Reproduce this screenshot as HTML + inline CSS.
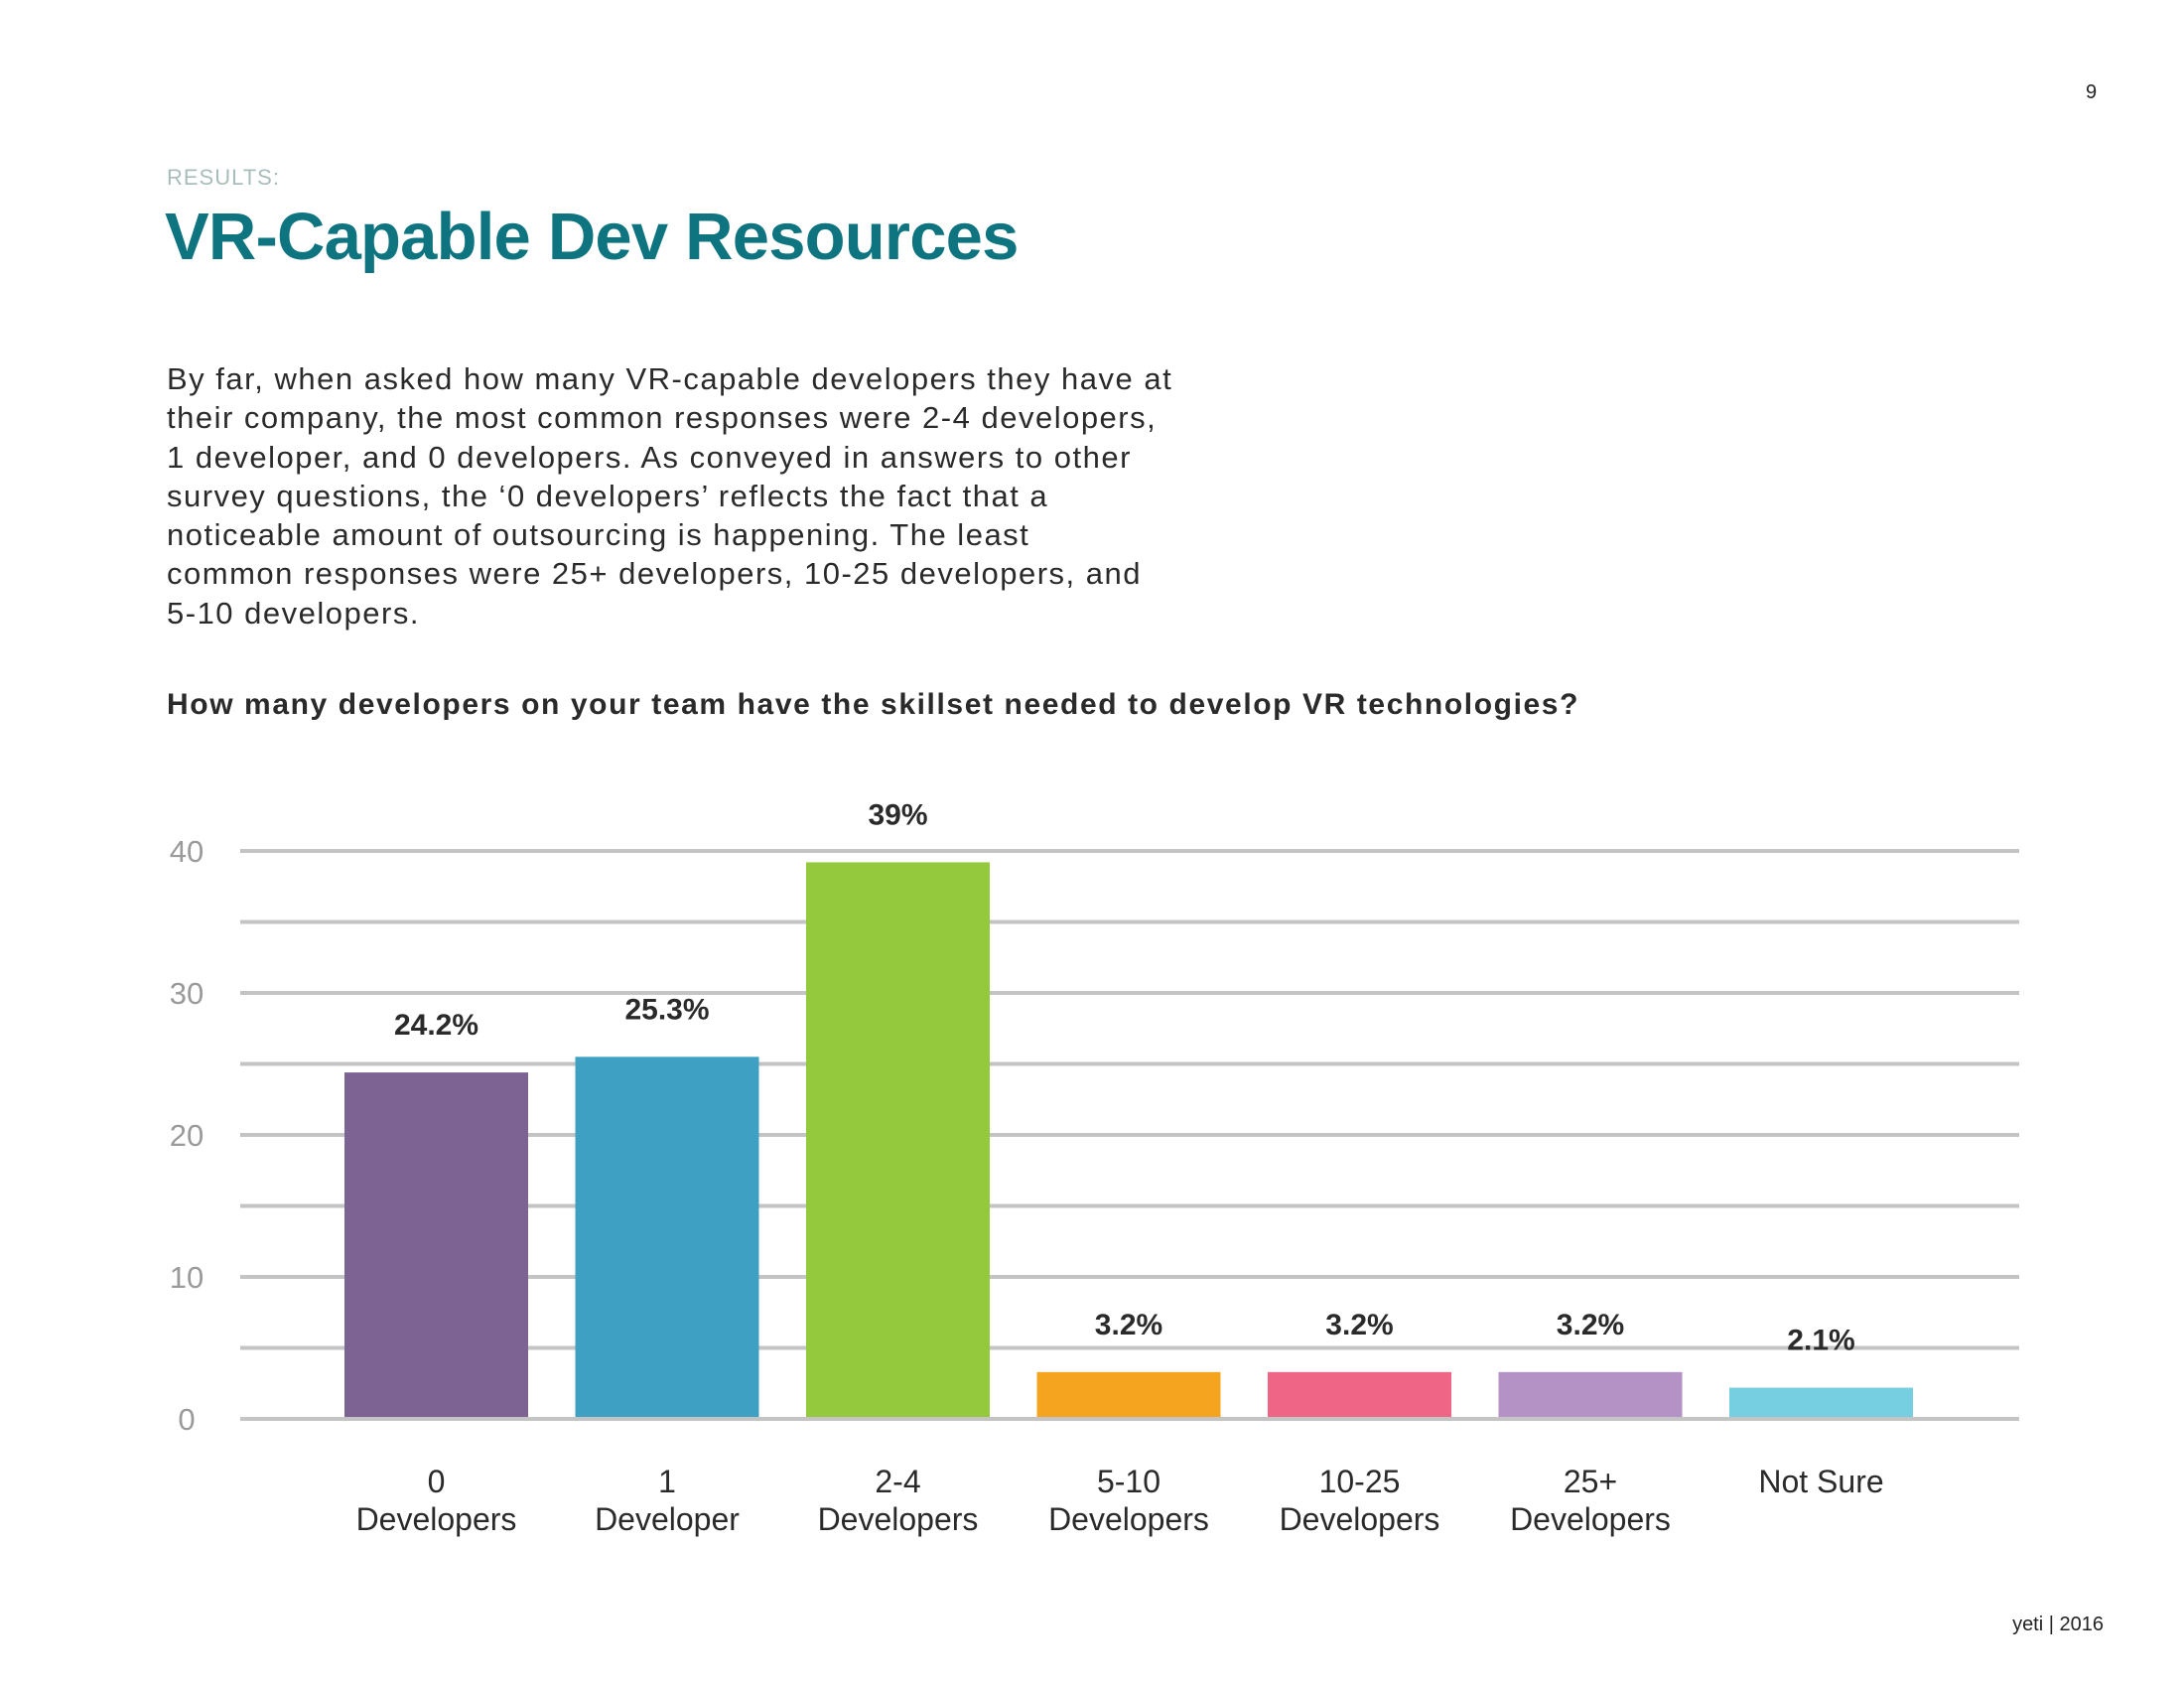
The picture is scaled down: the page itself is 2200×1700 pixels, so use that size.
<!DOCTYPE html>
<html><head><meta charset="utf-8"><style>
html,body{margin:0;padding:0;background:#fff;}
body{width:2200px;height:1700px;position:relative;overflow:hidden;font-family:"Liberation Sans",sans-serif;}
.t{position:absolute;white-space:nowrap;}
</style></head><body>
<div class="t" style="left:2101px;top:82px;font-size:20px;color:#222;">9</div>
<div class="t" style="left:168px;top:166px;font-size:22px;color:#a9bcbc;letter-spacing:1px;">RESULTS:</div>
<div class="t" style="left:166px;top:200px;font-size:67px;font-weight:bold;color:#0e7580;letter-spacing:-0.8px;">VR-Capable Dev Resources</div>
<div class="t" style="left:168px;top:362px;font-size:31px;line-height:39.3px;color:#2a2a2a;letter-spacing:1.5px;">By far, when asked how many VR-capable developers they have at<br>their company, the most common responses were 2-4 developers,<br>1 developer, and 0 developers. As conveyed in answers to other<br>survey questions, the ‘0 developers’ reflects the fact that a<br>noticeable amount of outsourcing is happening. The least<br>common responses were 25+ developers, 10-25 developers, and<br>5-10 developers.</div>
<div class="t" style="left:168px;top:693px;font-size:30px;font-weight:bold;color:#2a2a2a;letter-spacing:1.6px;">How many developers on your team have the skillset needed to develop VR technologies?</div>
<svg id="chart" width="2200" height="1700" style="position:absolute;left:0;top:0;" xmlns="http://www.w3.org/2000/svg"></svg>
<div class="t" style="right:81px;top:1625px;font-size:20px;color:#222;">yeti | 2016</div>
<script>
const categories1 = ["0","1","2-4","5-10","10-25","25+","Not Sure"];
const categories2 = ["Developers","Developer","Developers","Developers","Developers","Developers",""];
const values = [24.4, 25.5, 39.2, 3.3, 3.3, 3.3, 2.2];
const valueLabels = ["24.2%","25.3%","39%","3.2%","3.2%","3.2%","2.1%"];
const yTicks = [0,10,20,30,40];
const gridLines = [0,5,10,15,20,25,30,35,40];
const colors = ["#7d6394","#3ea1c3","#94c83d","#f4a41f","#ef6585","#b592c5","#76cfe0"];
const NS="http://www.w3.org/2000/svg";
const svg=document.getElementById('chart');
const y0=1429, pxPerUnit=14.3, x0=242, x1=2034, firstCenter=439.5, step=232.5, bw=185;
const yScale=v=>y0-v*pxPerUnit;
const xScale=i=>firstCenter+i*step;
function mk(tag,attrs){const e=document.createElementNS(NS,tag);for(const k in attrs)e.setAttribute(k,attrs[k]);svg.appendChild(e);return e;}
gridLines.forEach(g=>{
  const l=mk('line',{x1:x0,x2:x1,y1:yScale(g),y2:yScale(g),stroke:'#c4c4c4','stroke-width':4});
  
  
});
yTicks.forEach(t=>{
  const e=mk('text',{x:188,y:yScale(t)+11,'text-anchor':'middle','font-size':31,fill:'#9a9a9a','font-family':'Liberation Sans, sans-serif'});
  e.textContent=t;
  
  
});
values.forEach((v,i)=>{
  const cx=xScale(i);
  const r=mk('rect',{x:cx-bw/2,y:yScale(v),width:bw,height:y0-yScale(v)-2,fill:colors[i]});
  
  
  const t=mk('text',{x:cx,y:yScale(v)-38,'text-anchor':'middle','font-size':30,'font-weight':'bold',fill:'#2a2a2a','font-family':'Liberation Sans, sans-serif'});
  t.textContent=valueLabels[i];
  
  
  const a=mk('text',{x:cx,y:1503,'text-anchor':'middle','font-size':32,fill:'#2a2a2a','font-family':'Liberation Sans, sans-serif'});
  a.textContent=categories1[i];
  
  
  if(categories2[i]){
    const b=mk('text',{x:cx,y:1541,'text-anchor':'middle','font-size':32,fill:'#2a2a2a','font-family':'Liberation Sans, sans-serif'});
    b.textContent=categories2[i];
    
    
  }
});
</script>
</body></html>
